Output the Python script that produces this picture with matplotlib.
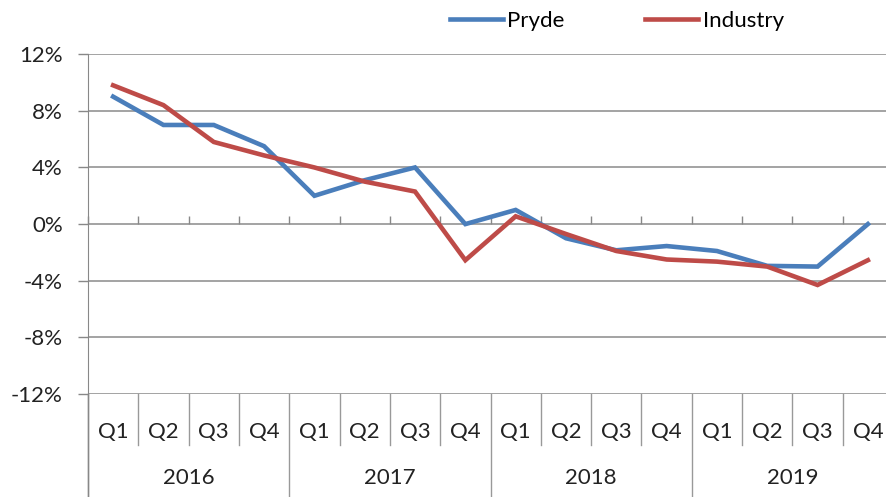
import matplotlib
matplotlib.use("Agg")
import matplotlib.pyplot as plt
import matplotlib.transforms as mtransforms
import numpy as np

years = ["2016", "2017", "2018", "2019"]
quarters = ["Q1", "Q2", "Q3", "Q4"]
pryde = [9.0, 7.0, 7.0, 5.5, 2.0, 3.1, 4.0, 0.0, 1.0, -1.0, -1.85, -1.55, -1.9, -2.95, -3.0, 0.0]
industry = [9.8, 8.4, 5.8, 4.85, 4.0, 3.0, 2.3, -2.55, 0.55, -0.7, -1.9, -2.5, -2.65, -3.0, -4.3, -2.55]
yticks = [-12, -8, -4, 0, 4, 8, 12]

FS = 16
plt.rcParams['font.family'] = ['Lato', 'DejaVu Sans']
fig = plt.figure(figsize=(8.86, 4.97), dpi=100)
ax = fig.add_axes([0.0993, 0.2072, 0.9007, 0.6838])

n = len(pryde)
x = np.arange(n)
ax.plot(x, pryde, color="#4A7EBB", lw=3.3, label="Pryde", solid_joinstyle="miter", zorder=3)
ax.plot(x, industry, color="#BE4B48", lw=3.3, label="Industry", solid_joinstyle="miter", zorder=3)

ax.set_ylim(-12, 12)
ax.set_xlim(-0.5, 15.36)
ax.set_yticks(yticks)
ax.set_yticklabels([f"{v}%" for v in yticks], fontsize=FS, color="#222222")
ax.tick_params(axis="y", length=7, width=1, color="#888888", pad=11)
ax.yaxis.grid(True, color="#8a8a8a", lw=1.1)
ax.set_axisbelow(True)
ax.set_xticks([])
for s in ["top", "right", "bottom"]:
    ax.spines[s].set_visible(False)
ax.spines["left"].set_color("#888888")
ax.spines["left"].set_bounds(-12, 12)

# tick marks on the zero line
sec = ax.secondary_xaxis(0.5)
sec.set_xticks(np.arange(n + 1) - 0.5)
sec.set_xticklabels([])
sec.tick_params(axis="x", direction="out", length=6, width=1, color="#888888")
sec.spines["bottom"].set_visible(False)
sec.spines["top"].set_visible(False)

trans = mtransforms.blended_transform_factory(ax.transData, ax.transAxes)
# category labels
for i in range(n):
    ax.text(i, -0.112, quarters[i % 4], transform=trans, ha="center", va="center",
            fontsize=FS, color="#222222", clip_on=False)
for j, yr in enumerate(years):
    ax.text(j * 4 + 1.5, -0.247, yr, transform=trans, ha="center", va="center",
            fontsize=FS, color="#222222", clip_on=False)
# separators
for b in range(n + 1):
    bx = b - 0.5
    if b % 4 == 0:
        ax.plot([bx, bx], [0, -0.30], transform=trans, color="#999999", lw=1, clip_on=False)
    else:
        ax.plot([bx, bx], [0, -0.15], transform=trans, color="#999999", lw=1, clip_on=False)
ax.plot([-0.5, -0.5], [0, -0.30], transform=trans, color="#888888", lw=1, clip_on=False)

fig.legend(loc="center", bbox_to_anchor=(0.696, 0.958), ncol=2, frameon=False,
           handlelength=2.4, handletextpad=0.2, columnspacing=3.6, fontsize=FS)

fig.savefig("out.png", dpi=100)
